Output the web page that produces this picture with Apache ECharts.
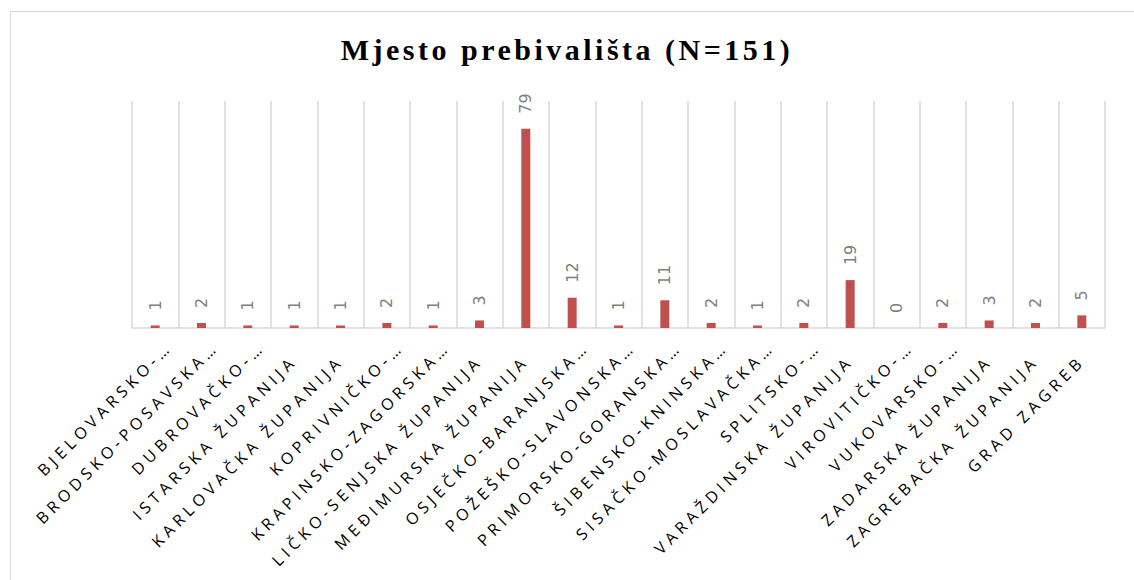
<!DOCTYPE html>
<html>
<head>
<meta charset="utf-8">
<script src="https://cdn.jsdelivr.net/npm/echarts@6/dist/echarts.min.js"></script>
<style>
  html, body { margin: 0; padding: 0; background: #fff; }
  #chart { width: 1134px; height: 580px; }
  text[style*="Open Sans"] { letter-spacing: 4.6px !important; }
  text[style*="Liberation Serif"] { letter-spacing: 3.5px !important; }
</style>
</head>
<body>
<div id="chart"></div>
<script>
const titleText = 'Mjesto prebivališta (N=151)';
const categories = [
  'BJELOVARSKO-…',
  'BRODSKO-POSAVSKA…',
  'DUBROVAČKO-…',
  'ISTARSKA ŽUPANIJA',
  'KARLOVAČKA ŽUPANIJA',
  'KOPRIVNIČKO-…',
  'KRAPINSKO-ZAGORSKA…',
  'LIČKO-SENJSKA ŽUPANIJA',
  'MEĐIMURSKA ŽUPANIJA',
  'OSJEČKO-BARANJSKA…',
  'POŽEŠKO-SLAVONSKA…',
  'PRIMORSKO-GORANSKA…',
  'ŠIBENSKO-KNINSKA…',
  'SISAČKO-MOSLAVAČKA…',
  'SPLITSKO-…',
  'VARAŽDINSKA ŽUPANIJA',
  'VIROVITIČKO-…',
  'VUKOVARSKO-…',
  'ZADARSKA ŽUPANIJA',
  'ZAGREBAČKA ŽUPANIJA',
  'GRAD ZAGREB'
];
const values = [1, 2, 1, 1, 1, 2, 1, 3, 79, 12, 1, 11, 2, 1, 2, 19, 0, 2, 3, 2, 5];

// Excel places the truncated labels further along their baseline than the full ones
const labelItems = categories.map(function (c) {
  const truncated = c.charAt(c.length - 1) === '…';
  return { value: c, textStyle: { padding: truncated ? [0, 0, 0, 0] : [0, 20, 0, 0] } };
});

const chart = echarts.init(document.getElementById('chart'), null, { renderer: 'svg' });
chart.setOption({
  animation: false,
  backgroundColor: '#ffffff',
  graphic: [{
    type: 'rect',
    silent: true,
    shape: { x: 10.5, y: 11.5, width: 1200, height: 700 },
    style: { fill: 'none', stroke: '#d9d9d9', lineWidth: 1 }
  }],
  title: {
    text: titleText,
    left: 'center',
    top: 29,
    textStyle: {
      fontFamily: 'Liberation Serif',
      fontWeight: 'bold',
      fontSize: 30,
      color: '#000000'
    }
  },
  grid: [
    { left: 132, right: 29, top: 101, bottom: 252 },
    { left: 146, right: 15, top: 101, bottom: 252 }
  ],
  xAxis: [{
    type: 'category',
    gridIndex: 0,
    data: categories,
    boundaryGap: true,
    axisLine: { show: true, lineStyle: { color: '#d9d9d9', width: 1.5 } },
    axisTick: { show: false, interval: 0 },
    splitLine: { show: true, interval: 0, lineStyle: { color: '#d9d9d9', width: 1.5 } },
    axisLabel: { show: false, interval: 0 }
  }, {
    type: 'category',
    gridIndex: 1,
    data: labelItems,
    boundaryGap: true,
    axisLine: { show: false },
    axisTick: { show: false },
    splitLine: { show: false },
    axisLabel: {
      interval: 0,
      rotate: 45,
      margin: 16,
      fontFamily: 'Open Sans',
      fontSize: 16,
      color: '#000000'
    }
  }],
  yAxis: [{
    type: 'value',
    gridIndex: 0,
    min: 0,
    max: 90,
    show: false,
    splitLine: { show: false }
  }, {
    type: 'value',
    gridIndex: 1,
    min: 0,
    max: 90,
    show: false,
    splitLine: { show: false }
  }],
  series: [{
    type: 'bar',
    xAxisIndex: 0,
    yAxisIndex: 0,
    data: values,
    barWidth: 9,
    itemStyle: { color: '#c0504d' },
    label: {
      show: true,
      position: 'top',
      rotate: 90,
      align: 'left',
      verticalAlign: 'middle',
      distance: 15,
      fontFamily: 'DejaVu Sans',
      fontSize: 16,
      color: '#7f7f7f'
    }
  }]
});
</script>
</body>
</html>
